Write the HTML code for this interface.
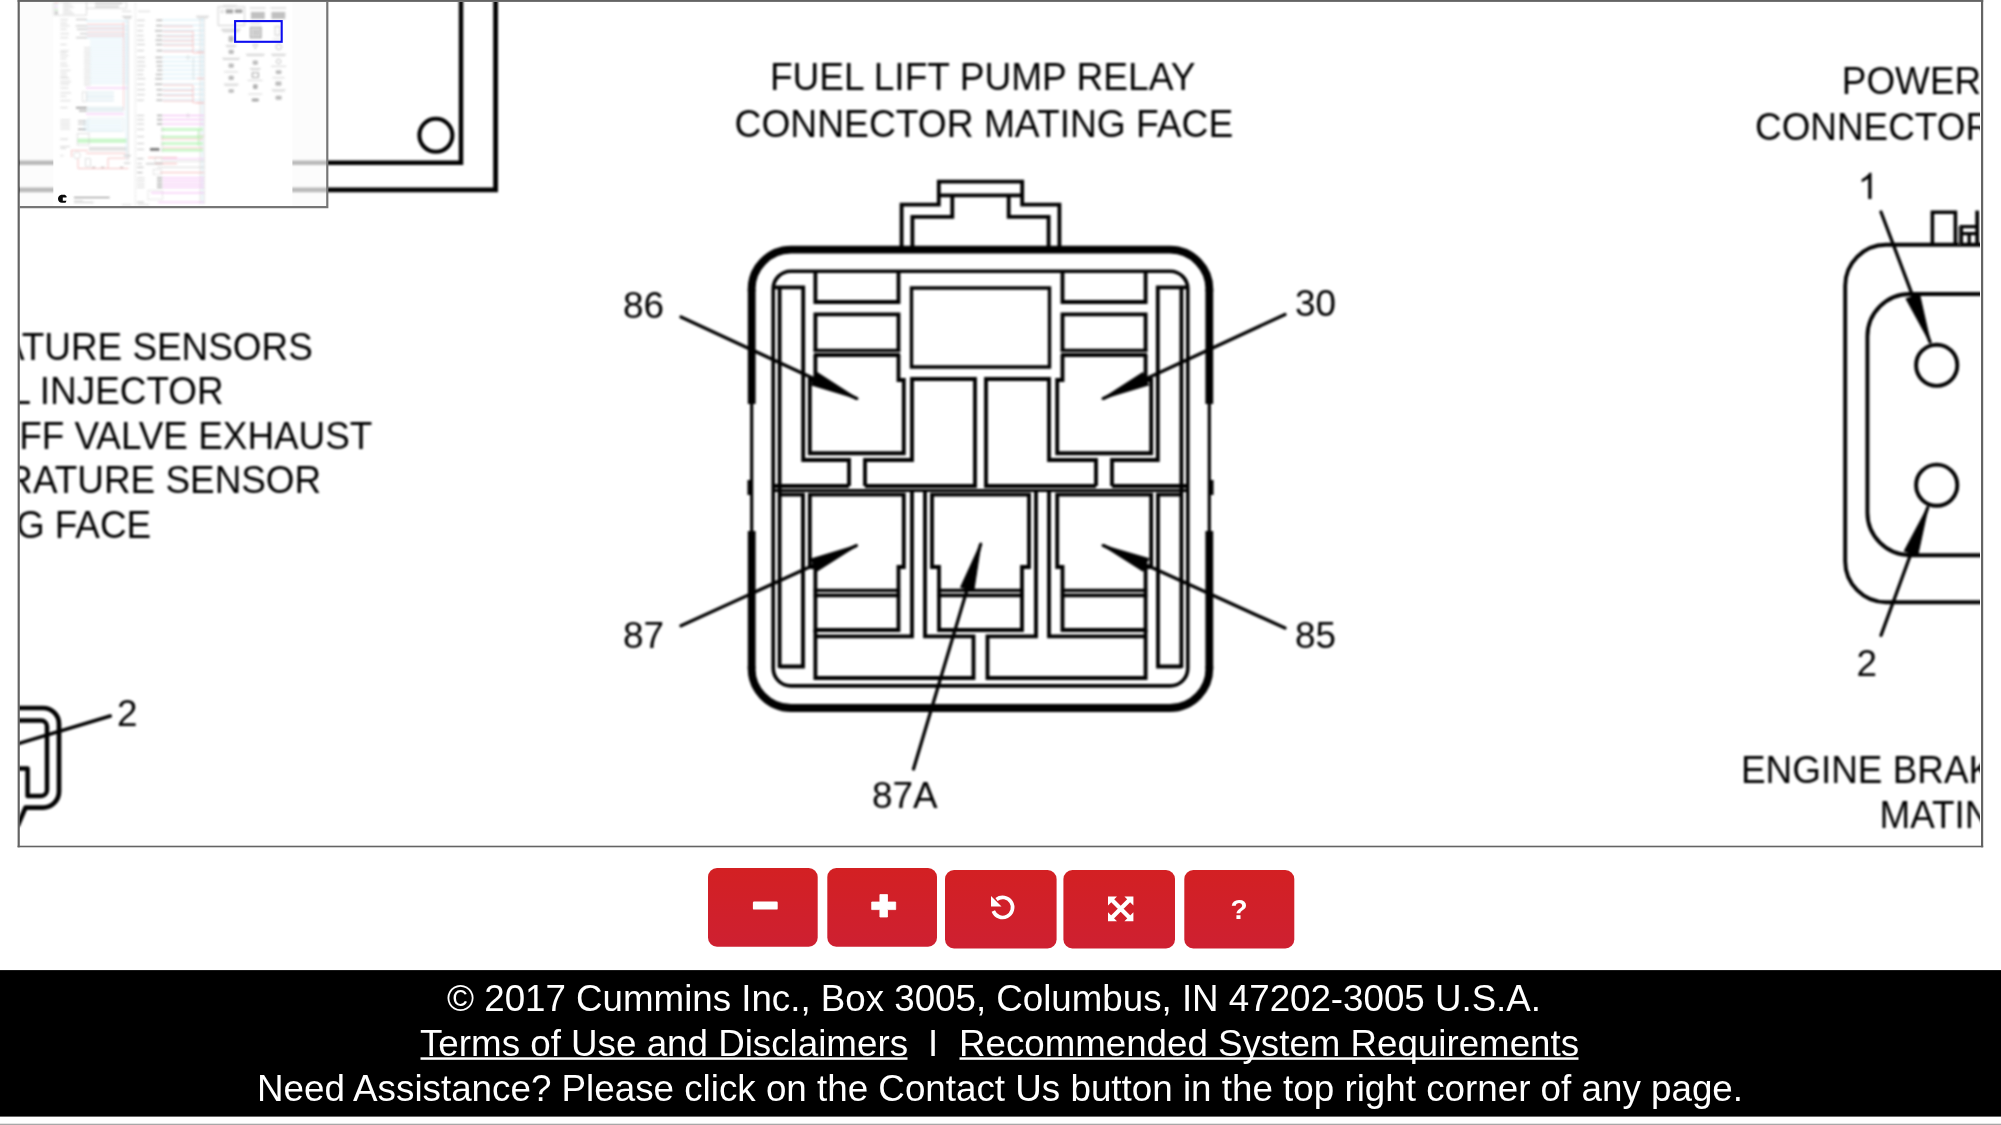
<!DOCTYPE html>
<html><head><meta charset="utf-8"><title>Wiring Diagram</title>
<style>
html,body{margin:0;padding:0;background:#fff;}
body{width:2001px;height:1125px;overflow:hidden;position:relative;font-family:"Liberation Sans",sans-serif;}
svg{position:absolute;left:0;top:0;display:block;}
text{font-family:"Liberation Sans",sans-serif;}
</style></head><body>
<svg width="2001" height="1125" viewBox="0 0 2001 1125">
<defs>
<clipPath id="frameclip"><rect x="19.5" y="2" width="1960.4" height="843.7"/></clipPath>
<filter id="tblur" x="-5%" y="-5%" width="110%" height="110%"><feGaussianBlur stdDeviation="0.8"/></filter>
<filter id="dblur" x="0" y="0" width="100%" height="100%" filterUnits="userSpaceOnUse"><feGaussianBlur stdDeviation="0.8"/></filter>
<linearGradient id="btn" x1="0" y1="0" x2="0" y2="1"><stop offset="0" stop-color="#d32023"/><stop offset="1" stop-color="#ce2031"/></linearGradient>
</defs>
<rect x="0" y="0" width="2001" height="1125" fill="#ffffff"/>
<g clip-path="url(#frameclip)">
<g filter="url(#dblur)">
<!-- top-left partial drawing -->
<g fill="none" stroke="#060606">
<path d="M0,162.7 H461 V-6" stroke-width="4.5"/>
<path d="M0,189.8 H495.6 V-6" stroke-width="4.8"/>
<circle cx="435.9" cy="135.3" r="16.5" stroke-width="4.1"/>
</g>
<!-- bottom-left partial connector -->
<g fill="none" stroke="#060606" stroke-linejoin="round">
<path d="M10,708 H43 A16,16 0 0 1 59,724 V791.6 A16,16 0 0 1 43,807.6 H25.5 L17.5,826" stroke-width="4.7"/>
<path d="M10,720.5 H41 A6,6 0 0 1 47,726.5 V790 A6,6 0 0 1 41,796 H27.6 V768.5 H10" stroke-width="4.5"/>
<path d="M110.3,716 L10,746.2" stroke-width="3.4" stroke-linecap="round"/>
</g>
<!-- right partial connector -->
<g fill="none" stroke="#060606">
<path d="M2000,244.7 H1886 A41,41 0 0 0 1845.2,285.7 V561.2 A41,41 0 0 0 1886,602.2 H2000" stroke-width="3.9"/>
<path d="M2000,294 H1910 A42.6,42.6 0 0 0 1867.4,336.6 V512.6 A42.6,42.6 0 0 0 1910,555.2 H2000" stroke-width="3.9"/>
<circle cx="1936.7" cy="365.3" r="20.6" stroke-width="3.9"/>
<circle cx="1936.7" cy="485.2" r="20.6" stroke-width="3.9"/>
<path d="M1932.4,244.8 V212.2 H1955.4 V244.8" stroke-width="3.6"/>
<path d="M1977.2,210.6 V244.8" stroke-width="3.8"/>
<path d="M1961.4,244.8 V226.6 H1977.2 M1961.4,233.7 H1977.2 M1969.2,233.7 V244.8" stroke-width="3.3"/><path d="M1959.2,226 V244.8" stroke-width="1.6" stroke="#444"/>
</g>
<g fill="none" stroke="#000000" stroke-linejoin="miter" stroke-linecap="butt">
<path d="M901.6,248.0 L901.6,204.6 L938.8,204.6 L938.8,181.6 L1022.2,181.6 L1022.2,204.6 L1059.4,204.6 L1059.4,248.0" stroke-width="3.85" />
<path d="M938.8,195.4 L1022.2,195.4" stroke-width="3.85" />
<path d="M952.3,195.4 L952.3,216.8 L912.4,216.8 L912.4,248.0" stroke-width="3.85" />
<path d="M1008.7,195.4 L1008.7,216.8 L1048.6,216.8 L1048.6,248.0" stroke-width="3.85" />
<path d="M751.7,291.2 A39.5,39.5 0 0 1 791.2,249.7 H1169.8 A39.5,39.5 0 0 1 1209.3,291.2" stroke-width="7.8" />
<path d="M751.7,666.5 A39.5,39.5 0 0 0 791.2,708 H1169.8 A39.5,39.5 0 0 0 1209.3,666.5" stroke-width="7.8" />
<path d="M751.7,289.2 V404" stroke-width="7.8" />
<path d="M751.7,402 V533" stroke-width="3.2" />
<path d="M751.7,531 V668.5" stroke-width="7.8" />
<path d="M749.7,480 V495" stroke-width="4.5" />
<path d="M1209.3,289.2 V404" stroke-width="7.8" />
<path d="M1209.3,402 V533" stroke-width="3.2" />
<path d="M1209.3,531 V668.5" stroke-width="7.8" />
<path d="M1211.3,480 V495" stroke-width="4.5" />
<path d="M790.8000000000001,271.2 H1170.2 A17.6,17.6 0 0 1 1187.8,288.8 V668.3 A17.6,17.6 0 0 1 1170.2,685.9 H790.8000000000001 A17.6,17.6 0 0 1 773.2,668.3 V288.8 A17.6,17.6 0 0 1 790.8000000000001,271.2 Z" stroke-width="3.6" />
<path d="M779.6,288.0 L779.6,668.0" stroke-width="3.85" />
<path d="M1181.4,288.0 L1181.4,668.0" stroke-width="3.85" />
<path d="M775.0,287.4 L803.2,287.4 L803.2,460.0 L849.0,460.0 L849.0,486.0" stroke-width="3.85" />
<path d="M1186.0,287.4 L1157.8,287.4 L1157.8,460.0 L1112.0,460.0 L1112.0,486.0" stroke-width="3.85" />
<path d="M815.4,271.0 L815.4,302.0 L898.5,302.0 L898.5,271.0" stroke-width="3.85" />
<path d="M1145.6,271.0 L1145.6,302.0 L1062.5,302.0 L1062.5,271.0" stroke-width="3.85" />
<path d="M815.4,352.0 L815.4,314.4 L898.5,314.4 L898.5,352.0" stroke-width="3.85" />
<path d="M1145.6,352.0 L1145.6,314.4 L1062.5,314.4 L1062.5,352.0" stroke-width="3.85" />
<path d="M813.8,350.4 L900.1,350.4" stroke-width="3.2" />
<path d="M1147.2,350.4 L1060.9,350.4" stroke-width="3.2" />
<path d="M813.8,355.0 L900.1,355.0" stroke-width="3.85" />
<path d="M1147.2,355.0 L1060.9,355.0" stroke-width="3.85" />
<path d="M815.4,355.0 L815.4,380.0 L809.8,380.0 L809.8,453.2 L903.8,453.2 L903.8,380.0 L898.5,380.0 L898.5,355.0" stroke-width="3.85" />
<path d="M1145.6,355.0 L1145.6,380.0 L1151.2,380.0 L1151.2,453.2 L1057.2,453.2 L1057.2,380.0 L1062.5,380.0 L1062.5,355.0" stroke-width="3.85" />
<path d="M911.5,288.0 L1049.5,288.0 L1049.5,367.0 L911.5,367.0 Z" stroke-width="3.4" />
<path d="M865.0,486.0 L865.0,460.0 L912.0,460.0 L912.0,379.0 L975.0,379.0 L975.0,486.0 L865.0,486.0" stroke-width="3.85" />
<path d="M1096.0,486.0 L1096.0,460.0 L1049.0,460.0 L1049.0,379.0 L986.0,379.0 L986.0,486.0 L1096.0,486.0" stroke-width="3.85" />
<path d="M775.0,486.0 L849.0,486.0" stroke-width="3.85" />
<path d="M1186.0,486.0 L1112.0,486.0" stroke-width="3.85" />
<path d="M775.0,490.6 L1186.0,490.6" stroke-width="3.0" />
<path d="M779.6,494.6 L803.0,494.6 L803.0,666.5 L779.6,666.5" stroke-width="3.85" />
<path d="M1181.4,494.6 L1158.0,494.6 L1158.0,666.5 L1181.4,666.5" stroke-width="3.85" />
<path d="M809.8,494.6 L903.8,494.6 L903.8,567.0 L898.5,567.0 L898.5,630.0 L815.4,630.0 L815.4,567.0 L809.8,567.0 L809.8,494.6 Z" stroke-width="3.85" />
<path d="M1151.2,494.6 L1057.2,494.6 L1057.2,567.0 L1062.5,567.0 L1062.5,630.0 L1145.6,630.0 L1145.6,567.0 L1151.2,567.0 L1151.2,494.6 Z" stroke-width="3.85" />
<path d="M813.8,590.4 L900.1,590.4" stroke-width="3.4" />
<path d="M1147.2,590.4 L1060.9,590.4" stroke-width="3.4" />
<path d="M813.8,595.3 L900.1,595.3" stroke-width="3.85" />
<path d="M1147.2,595.3 L1060.9,595.3" stroke-width="3.85" />
<path d="M912.0,492.0 L912.0,636.4 L815.4,636.4" stroke-width="3.85" />
<path d="M1049.0,492.0 L1049.0,636.4 L1145.6,636.4" stroke-width="3.85" />
<path d="M815.4,630.0 L815.4,678.0 L973.5,678.0 L973.5,636.4 L925.0,636.4 L925.0,492.0" stroke-width="3.85" />
<path d="M1145.6,630.0 L1145.6,678.0 L987.5,678.0 L987.5,636.4 L1036.0,636.4 L1036.0,492.0" stroke-width="3.85" />
<path d="M932.0,494.6 L1029.0,494.6 L1029.0,567.0 L1022.0,567.0 L1022.0,630.0 L939.0,630.0 L939.0,567.0 L932.0,567.0 Z" stroke-width="3.85" />
<path d="M937.4,590.4 L1023.6,590.4" stroke-width="3.4" />
<path d="M937.4,595.3 L1023.6,595.3" stroke-width="3.85" />
</g>
<path d="M681.0,317.0 L856.6,398.4" stroke="#000000" stroke-width="3.3" stroke-linecap="round" fill="none"/>
<path d="M858.0,399.0 L811.6,384.9 L817.3,372.7 Z" fill="#000000" stroke="#000000" stroke-width="1.2" stroke-linejoin="round"/>
<path d="M1285.0,314.5 L1103.4,398.4" stroke="#000000" stroke-width="3.3" stroke-linecap="round" fill="none"/>
<path d="M1102.0,399.0 L1142.7,372.7 L1148.4,385.0 Z" fill="#000000" stroke="#000000" stroke-width="1.2" stroke-linejoin="round"/>
<path d="M681.0,625.8 L856.1,545.8" stroke="#000000" stroke-width="3.3" stroke-linecap="round" fill="none"/>
<path d="M857.5,545.2 L816.6,571.3 L811.0,559.0 Z" fill="#000000" stroke="#000000" stroke-width="1.2" stroke-linejoin="round"/>
<path d="M1285.0,628.0 L1103.4,545.6" stroke="#000000" stroke-width="3.3" stroke-linecap="round" fill="none"/>
<path d="M1102.0,545.0 L1148.5,558.7 L1142.9,571.0 Z" fill="#000000" stroke="#000000" stroke-width="1.2" stroke-linejoin="round"/>
<path d="M913.5,769.0 L980.6,544.4" stroke="#000000" stroke-width="3.3" stroke-linecap="round" fill="none"/>
<path d="M981.0,543.0 L973.7,590.9 L960.8,587.1 Z" fill="#000000" stroke="#000000" stroke-width="1.2" stroke-linejoin="round"/>
<path d="M1881.0,212.0 L1930.0,341.8" stroke="#000000" stroke-width="3.3" stroke-linecap="round" fill="none"/>
<path d="M1930.5,343.2 L1906.3,298.9 L1919.4,293.9 Z" fill="#000000" stroke="#000000" stroke-width="1.2" stroke-linejoin="round"/>
<path d="M1881.0,635.4 L1927.7,507.7" stroke="#000000" stroke-width="3.3" stroke-linecap="round" fill="none"/>
<path d="M1928.2,506.3 L1917.6,555.7 L1904.5,550.9 Z" fill="#000000" stroke="#000000" stroke-width="1.2" stroke-linejoin="round"/>
<text x="769.9" y="90.4" font-size="38.0" text-anchor="start" fill="#060606" textLength="425.6" lengthAdjust="spacingAndGlyphs" >FUEL LIFT PUMP RELAY</text>
<text x="734.6" y="136.6" font-size="38.0" text-anchor="start" fill="#060606" textLength="498.6" lengthAdjust="spacingAndGlyphs" >CONNECTOR MATING FACE</text>
<text transform="translate(623,318.4) scale(0.9973,1)" font-size="37.0" text-anchor="start" fill="#060606" >86</text>
<text transform="translate(1295,316.4) scale(0.9973,1)" font-size="37.0" text-anchor="start" fill="#060606" >30</text>
<text transform="translate(623,647.5) scale(0.9973,1)" font-size="37.0" text-anchor="start" fill="#060606" >87</text>
<text transform="translate(1295,647.5) scale(0.9973,1)" font-size="37.0" text-anchor="start" fill="#060606" >85</text>
<text transform="translate(872,808.4) scale(0.9973,1)" font-size="37.0" text-anchor="start" fill="#060606" >87A</text>
<text transform="translate(312.8,359.6) scale(0.9711,1)" font-size="38.0" text-anchor="end" fill="#060606" >TEMPERATURE SENSORS</text>
<text transform="translate(223.6,404.2) scale(0.9711,1)" font-size="38.0" text-anchor="end" fill="#060606" >FUEL INJECTOR</text>
<text transform="translate(372.4,448.6) scale(0.9711,1)" font-size="38.0" text-anchor="end" fill="#060606" >SHUTOFF VALVE EXHAUST</text>
<text transform="translate(321.2,493.4) scale(0.9711,1)" font-size="38.0" text-anchor="end" fill="#060606" >TEMPERATURE SENSOR</text>
<text transform="translate(151.2,538.0) scale(0.9711,1)" font-size="38.0" text-anchor="end" fill="#060606" >MATING FACE</text>
<text transform="translate(117,726.3) scale(0.9973,1)" font-size="37.0" text-anchor="start" fill="#060606" >2</text>
<text transform="translate(1841.8,94) scale(0.9711,1)" font-size="38.0" text-anchor="start" fill="#060606" >POWER</text>
<text transform="translate(1755,140) scale(0.9711,1)" font-size="38.0" text-anchor="start" fill="#060606" >CONNECTOR</text>
<path transform="translate(1857.6,198.9) scale(0.01823,-0.01787)" d="M763 0 H583 V1147 Q518 1085 412.5 1023 T223 930 V1104 Q373 1174.5 485 1275 T644 1470 H763 Z" fill="#060606"/>
<text transform="translate(1856.5,676) scale(0.9973,1)" font-size="37.0" text-anchor="start" fill="#060606" >2</text>
<text transform="translate(1741.0,783.2) scale(0.9711,1)" font-size="38.0" text-anchor="start" fill="#060606" >ENGINE BRAKE</text>
<text transform="translate(1879.4,827.6) scale(0.9711,1)" font-size="38.0" text-anchor="start" fill="#060606" >MATING</text>
</g>
<!-- thumbnail panel -->
<rect x="19.5" y="2" width="308" height="205" fill="#fbfbfb" fill-opacity="0.74"/>
<rect x="53.3" y="2" width="239.1" height="204.2" fill="#ffffff"/>
<g fill="none" filter="url(#tblur)" opacity="0.82">
<rect x="53.9" y="2.0" width="32.6" height="13.2" stroke="#c4c4c4" stroke-width="0.7" fill="none" opacity="1"/>
<rect x="86.5" y="2.0" width="40.0" height="6.3" stroke="#c4c4c4" stroke-width="0.7" fill="none" opacity="1"/>
<path d="M95.0,3.5H122.0" stroke="#8c8c8c" stroke-width="0.8" opacity="1"/>
<path d="M95.0,6.6H119.0" stroke="#8c8c8c" stroke-width="0.8" opacity="1"/>
<path d="M54.8,3.0H58.0" stroke="#f3a6a6" stroke-width="0.9" opacity="1"/>
<path d="M63.0,3.0H70.0" stroke="#c0c0c0" stroke-width="0.7" opacity="1"/>
<path d="M54.8,5.1H58.0" stroke="#bfe4f3" stroke-width="0.9" opacity="1"/>
<path d="M63.0,5.1H72.0" stroke="#c0c0c0" stroke-width="0.7" opacity="1"/>
<path d="M54.8,7.2H58.0" stroke="#f2a8f2" stroke-width="0.9" opacity="1"/>
<path d="M63.0,7.2H74.0" stroke="#c0c0c0" stroke-width="0.7" opacity="1"/>
<path d="M54.8,9.3H58.0" stroke="#a6f0a6" stroke-width="0.9" opacity="1"/>
<path d="M63.0,9.3H70.0" stroke="#c0c0c0" stroke-width="0.7" opacity="1"/>
<path d="M54.8,11.4H58.0" stroke="#999" stroke-width="0.9" opacity="1"/>
<path d="M63.0,11.4H72.0" stroke="#c0c0c0" stroke-width="0.7" opacity="1"/>
<path d="M54.8,13.5H58.0" stroke="#777" stroke-width="0.9" opacity="1"/>
<path d="M63.0,13.5H74.0" stroke="#c0c0c0" stroke-width="0.7" opacity="1"/>
<path d="M135.4,3V206" stroke="#c8c8c8" stroke-width="0.7" stroke-dasharray="2 1.2"/>
<path d="M122.0,11.3H131.0" stroke="#aaa" stroke-width="0.6" opacity="1"/>
<path d="M138.0,11.3H150.0" stroke="#aaa" stroke-width="0.6" opacity="1"/>
<path d="M122.0,16.6H132.0" stroke="#999" stroke-width="0.7" opacity="1"/>
<path d="M124.0,18.2H131.0" stroke="#999" stroke-width="0.7" opacity="1"/>
<path d="M86.0,21.0H128.0" stroke="#bfe4f3" stroke-width="0.9" opacity="1"/>
<path d="M86.0,26.4H128.0" stroke="#bfe4f3" stroke-width="0.9" opacity="1"/>
<path d="M86.0,29.8H128.0" stroke="#bfe4f3" stroke-width="0.9" opacity="1"/>
<path d="M86.0,34.2H128.0" stroke="#bfe4f3" stroke-width="0.9" opacity="1"/>
<path d="M86.0,37.7H128.0" stroke="#bfe4f3" stroke-width="0.9" opacity="1"/>
<path d="M87.0,24.4H124.0" stroke="#f3a6a6" stroke-width="0.8" opacity="1"/>
<path d="M87.0,28.4H124.0" stroke="#f3a6a6" stroke-width="0.8" opacity="1"/>
<path d="M87.0,32.3H124.0" stroke="#f3a6a6" stroke-width="0.8" opacity="1"/>
<path d="M87.0,35.7H124.0" stroke="#f3a6a6" stroke-width="0.8" opacity="1"/>
<path d="M90.0,40.6H128.0" stroke="#bfe4f3" stroke-width="0.8" opacity="0.9"/>
<path d="M90.0,43.4H128.0" stroke="#bfe4f3" stroke-width="0.8" opacity="0.9"/>
<path d="M90.0,46.3H128.0" stroke="#bfe4f3" stroke-width="0.8" opacity="0.9"/>
<path d="M90.0,49.1H128.0" stroke="#bfe4f3" stroke-width="0.8" opacity="0.9"/>
<path d="M90.0,51.9H128.0" stroke="#bfe4f3" stroke-width="0.8" opacity="0.9"/>
<path d="M90.0,54.8H128.0" stroke="#bfe4f3" stroke-width="0.8" opacity="0.9"/>
<path d="M90.0,57.6H128.0" stroke="#bfe4f3" stroke-width="0.8" opacity="0.9"/>
<path d="M90.0,60.4H128.0" stroke="#bfe4f3" stroke-width="0.8" opacity="0.9"/>
<path d="M90.0,63.3H128.0" stroke="#bfe4f3" stroke-width="0.8" opacity="0.9"/>
<path d="M90.0,66.1H128.0" stroke="#bfe4f3" stroke-width="0.8" opacity="0.9"/>
<path d="M90.0,68.9H128.0" stroke="#bfe4f3" stroke-width="0.8" opacity="0.9"/>
<path d="M90.0,71.8H128.0" stroke="#bfe4f3" stroke-width="0.8" opacity="0.9"/>
<path d="M90.0,74.6H128.0" stroke="#bfe4f3" stroke-width="0.8" opacity="0.9"/>
<path d="M90.0,77.5H128.0" stroke="#bfe4f3" stroke-width="0.8" opacity="0.9"/>
<path d="M90.0,80.3H128.0" stroke="#bfe4f3" stroke-width="0.8" opacity="0.9"/>
<path d="M90.0,83.1H128.0" stroke="#bfe4f3" stroke-width="0.8" opacity="0.9"/>
<path d="M86.0,88.0H128.0" stroke="#f2a8f2" stroke-width="0.9" opacity="1"/>
<path d="M86.0,92.4H114.0" stroke="#c4dde6" stroke-width="0.9" opacity="1"/>
<path d="M86.0,95.4H114.0" stroke="#c4dde6" stroke-width="0.9" opacity="1"/>
<path d="M86.0,97.8H114.0" stroke="#c4dde6" stroke-width="0.9" opacity="1"/>
<path d="M86.0,100.7H114.0" stroke="#c4dde6" stroke-width="0.9" opacity="1"/>
<path d="M123.7,22.0V110.0" stroke="#f3a6a6" stroke-width="0.7" opacity="1"/>
<path d="M126.3,20.0V110.0" stroke="#bfe4f3" stroke-width="0.7" opacity="1"/>
<path d="M128.4,20.0V160.0" stroke="#c0c0c0" stroke-width="0.7" opacity="1"/>
<path d="M60.3,19.6H67.9" stroke="#b4b4b4" stroke-width="0.8" opacity="0.85"/>
<path d="M60.3,23.0H67.1" stroke="#b4b4b4" stroke-width="0.8" opacity="0.85"/>
<path d="M60.3,25.9H69.6" stroke="#b4b4b4" stroke-width="0.8" opacity="0.85"/>
<path d="M60.3,29.3H66.7" stroke="#b4b4b4" stroke-width="0.8" opacity="0.85"/>
<path d="M60.3,33.7H69.0" stroke="#b4b4b4" stroke-width="0.8" opacity="0.85"/>
<path d="M60.3,37.7H68.1" stroke="#b4b4b4" stroke-width="0.8" opacity="0.85"/>
<path d="M60.3,44.5H66.6" stroke="#b4b4b4" stroke-width="0.8" opacity="0.85"/>
<path d="M60.3,50.9H68.8" stroke="#b4b4b4" stroke-width="0.8" opacity="0.85"/>
<path d="M60.3,52.8H66.5" stroke="#b4b4b4" stroke-width="0.8" opacity="0.85"/>
<path d="M60.3,55.7H68.5" stroke="#b4b4b4" stroke-width="0.8" opacity="0.85"/>
<path d="M60.3,58.7H66.6" stroke="#b4b4b4" stroke-width="0.8" opacity="0.85"/>
<path d="M60.3,63.1H66.8" stroke="#b4b4b4" stroke-width="0.8" opacity="0.85"/>
<path d="M60.3,66.0H68.4" stroke="#b4b4b4" stroke-width="0.8" opacity="0.85"/>
<path d="M60.3,70.4H70.4" stroke="#b4b4b4" stroke-width="0.8" opacity="0.85"/>
<path d="M60.3,73.3H66.9" stroke="#b4b4b4" stroke-width="0.8" opacity="0.85"/>
<path d="M60.3,76.3H67.4" stroke="#b4b4b4" stroke-width="0.8" opacity="0.85"/>
<path d="M60.3,78.2H69.4" stroke="#b4b4b4" stroke-width="0.8" opacity="0.85"/>
<path d="M60.3,81.7H71.0" stroke="#b4b4b4" stroke-width="0.8" opacity="0.85"/>
<path d="M60.3,84.1H69.2" stroke="#b4b4b4" stroke-width="0.8" opacity="0.85"/>
<path d="M60.3,88.0H68.3" stroke="#b4b4b4" stroke-width="0.8" opacity="0.85"/>
<path d="M60.3,92.9H71.2" stroke="#b4b4b4" stroke-width="0.8" opacity="0.85"/>
<path d="M60.3,96.3H66.5" stroke="#b4b4b4" stroke-width="0.8" opacity="0.85"/>
<path d="M60.3,100.7H70.6" stroke="#b4b4b4" stroke-width="0.8" opacity="0.85"/>
<path d="M60.3,107.6H67.7" stroke="#b4b4b4" stroke-width="0.8" opacity="0.85"/>
<path d="M75.9,19.6H87.0" stroke="#9a9a9a" stroke-width="1.0" opacity="0.8"/>
<path d="M75.7,25.9H87.0" stroke="#9a9a9a" stroke-width="1.0" opacity="0.8"/>
<path d="M76.9,29.3H87.0" stroke="#9a9a9a" stroke-width="1.0" opacity="0.8"/>
<path d="M79.9,33.7H87.0" stroke="#9a9a9a" stroke-width="1.0" opacity="0.8"/>
<path d="M76.1,37.7H87.0" stroke="#9a9a9a" stroke-width="1.0" opacity="0.8"/>
<path d="M84.0,47.9H90.5" stroke="#b0b0b0" stroke-width="0.8" opacity="0.8"/>
<path d="M84.0,50.8H90.5" stroke="#b0b0b0" stroke-width="0.8" opacity="0.8"/>
<path d="M84.0,53.6H90.5" stroke="#b0b0b0" stroke-width="0.8" opacity="0.8"/>
<path d="M84.0,56.4H90.5" stroke="#b0b0b0" stroke-width="0.8" opacity="0.8"/>
<path d="M84.0,59.3H90.5" stroke="#b0b0b0" stroke-width="0.8" opacity="0.8"/>
<path d="M84.0,62.1H90.5" stroke="#b0b0b0" stroke-width="0.8" opacity="0.8"/>
<path d="M84.0,64.9H90.5" stroke="#b0b0b0" stroke-width="0.8" opacity="0.8"/>
<path d="M84.0,67.8H90.5" stroke="#b0b0b0" stroke-width="0.8" opacity="0.8"/>
<path d="M84.0,70.6H90.5" stroke="#b0b0b0" stroke-width="0.8" opacity="0.8"/>
<path d="M84.0,73.4H90.5" stroke="#b0b0b0" stroke-width="0.8" opacity="0.8"/>
<path d="M84.0,76.3H90.5" stroke="#b0b0b0" stroke-width="0.8" opacity="0.8"/>
<path d="M84.0,79.1H90.5" stroke="#b0b0b0" stroke-width="0.8" opacity="0.8"/>
<path d="M84.0,82.0H90.5" stroke="#b0b0b0" stroke-width="0.8" opacity="0.8"/>
<path d="M84.0,84.8H90.5" stroke="#b0b0b0" stroke-width="0.8" opacity="0.8"/>
<rect x="82.5" y="92.0" width="4.0" height="9.5" stroke="#bbb" stroke-width="0.5" fill="none" opacity="1"/>
<path d="M76.0,107.6H87.0" stroke="#777" stroke-width="1.4" opacity="0.8"/>
<path d="M76.0,107.8H87.0" stroke="#777" stroke-width="1.3" opacity="0.8"/>
<path d="M79.0,110.8H87.0" stroke="#777" stroke-width="1.3" opacity="0.8"/>
<path d="M87.0,107.8H124.0" stroke="#bfe4f3" stroke-width="0.9" opacity="1"/>
<path d="M87.0,110.8H124.0" stroke="#bfe4f3" stroke-width="0.9" opacity="1"/>
<rect x="87" y="106.8" width="36" height="5.0" fill="#dfeaed" opacity="0.7"/>
<path d="M86.0,114.0H124.0" stroke="#f2a8f2" stroke-width="1.0" opacity="1"/>
<path d="M83.0,121.0H122.0" stroke="#bfe4f3" stroke-width="0.8" opacity="1"/>
<path d="M60.3,120.0H70.0" stroke="#b4b4b4" stroke-width="0.8" opacity="0.85"/>
<path d="M83.0,124.0H122.0" stroke="#bfe4f3" stroke-width="0.8" opacity="1"/>
<path d="M60.3,123.0H70.0" stroke="#b4b4b4" stroke-width="0.8" opacity="0.85"/>
<path d="M83.0,126.9H122.0" stroke="#bfe4f3" stroke-width="0.8" opacity="1"/>
<path d="M60.3,125.9H70.0" stroke="#b4b4b4" stroke-width="0.8" opacity="0.85"/>
<path d="M83.0,129.8H122.0" stroke="#bfe4f3" stroke-width="0.8" opacity="1"/>
<path d="M60.3,128.9H70.0" stroke="#b4b4b4" stroke-width="0.8" opacity="0.85"/>
<rect x="88.0" y="118.1" width="35.5" height="13.2" stroke="#c9dfe6" stroke-width="0.6" fill="none" opacity="1"/>
<path d="M78.0,121.0H86.0" stroke="#888" stroke-width="1.0" opacity="0.8"/>
<path d="M78.0,124.0H86.0" stroke="#999" stroke-width="1.0" opacity="0.8"/>
<path d="M78.0,129.3H86.0" stroke="#666" stroke-width="1.2" opacity="0.8"/>
<rect x="77.5" y="138.6" width="49.5" height="4.2" fill="#aef3ae" opacity="0.8"/>
<rect x="77.2" y="133.3" width="11.8" height="11.7" stroke="#c0c0c0" stroke-width="0.6" fill="none" opacity="1"/>
<rect x="89" y="146.9" width="38" height="3.8" fill="#d6d6d6" opacity="0.9"/>
<path d="M60.3,139.1H68.0" stroke="#b4b4b4" stroke-width="0.8" opacity="1"/>
<path d="M60.3,146.5H70.0" stroke="#b4b4b4" stroke-width="0.7" opacity="1"/>
<path d="M60.3,148.4H66.0" stroke="#b4b4b4" stroke-width="0.7" opacity="1"/>
<path d="M60.3,155.7H63.5" stroke="#b4b4b4" stroke-width="0.7" opacity="1"/>
<path d="M71.5,150.4H88 M71.5,150.4V157.2 M86,153.3H127 M78,158.7V168.5H128.5 M108,168.5V158.2H128" stroke="#f3a6a6" stroke-width="0.8"/>
<circle cx="77" cy="155.3" r="3.4" stroke="#c0c0c0" stroke-width="0.6"/>
<rect x="85.5" y="158.7" width="5.0" height="7.8" stroke="#c0c0c0" stroke-width="0.6" fill="none" opacity="1"/>
<path d="M126.3,110.0V160.0" stroke="#bfe4f3" stroke-width="0.7" opacity="1"/>
<path d="M123.5,155.7H131.0" stroke="#a0a0a0" stroke-width="0.8" opacity="1"/>
<path d="M124.0,163.1H130.0" stroke="#a0a0a0" stroke-width="0.8" opacity="1"/>
<path d="M92.0,167.3H95.4" stroke="#888" stroke-width="1.0" opacity="0.8"/>
<path d="M101.0,167.3H104.4" stroke="#888" stroke-width="1.0" opacity="0.8"/>
<path d="M120.0,167.3H123.4" stroke="#888" stroke-width="1.0" opacity="0.8"/>
<path d="M74.0,197.5H109.5" stroke="#555" stroke-width="1.0" opacity="0.9"/>
<path d="M74.0,200.5H83.0" stroke="#aaa" stroke-width="0.6" opacity="1"/>
<path d="M74.0,202.4H93.5" stroke="#999" stroke-width="0.7" opacity="1"/>
<path d="M122.0,204.8H131.0" stroke="#b0b0b0" stroke-width="0.6" opacity="1"/>
<path d="M138.0,204.8H149.0" stroke="#b0b0b0" stroke-width="0.6" opacity="1"/>
<path d="M137.0,20.3H144.7" stroke="#a8a8a8" stroke-width="0.9" opacity="0.85"/>
<path d="M156.3,20.3H162.5" stroke="#8a8a8a" stroke-width="1.4" opacity="0.8"/>
<path d="M163.0,20.0H204.0" stroke="#bfe4f3" stroke-width="0.9" opacity="1"/>
<path d="M137.0,25.6H144.1" stroke="#a8a8a8" stroke-width="0.9" opacity="0.85"/>
<path d="M156.1,25.6H162.5" stroke="#8a8a8a" stroke-width="1.4" opacity="0.8"/>
<path d="M163.0,25.3H204.0" stroke="#bfe4f3" stroke-width="0.9" opacity="1"/>
<path d="M163.0,26.4H193.0" stroke="#f3a6a6" stroke-width="0.8" opacity="1"/>
<path d="M137.0,30.8H143.2" stroke="#a8a8a8" stroke-width="0.9" opacity="0.85"/>
<path d="M155.1,30.8H162.5" stroke="#8a8a8a" stroke-width="1.4" opacity="0.8"/>
<path d="M163.0,30.5H204.0" stroke="#bfe4f3" stroke-width="0.9" opacity="1"/>
<path d="M163.0,31.6H193.0" stroke="#f3a6a6" stroke-width="0.8" opacity="1"/>
<path d="M137.0,35.7H143.6" stroke="#a8a8a8" stroke-width="0.9" opacity="0.85"/>
<path d="M156.4,35.7H162.5" stroke="#8a8a8a" stroke-width="1.4" opacity="0.8"/>
<path d="M163.0,35.4H204.0" stroke="#bfe4f3" stroke-width="0.9" opacity="1"/>
<path d="M163.0,36.5H193.0" stroke="#f3a6a6" stroke-width="0.8" opacity="1"/>
<path d="M137.0,40.1H144.3" stroke="#a8a8a8" stroke-width="0.9" opacity="0.85"/>
<path d="M155.6,40.1H162.5" stroke="#8a8a8a" stroke-width="1.4" opacity="0.8"/>
<path d="M163.0,39.8H204.0" stroke="#bfe4f3" stroke-width="0.9" opacity="1"/>
<path d="M163.0,40.9H193.0" stroke="#f3a6a6" stroke-width="0.8" opacity="1"/>
<path d="M137.0,44.5H144.8" stroke="#a8a8a8" stroke-width="0.9" opacity="0.85"/>
<path d="M155.9,44.5H162.5" stroke="#8a8a8a" stroke-width="1.4" opacity="0.8"/>
<path d="M163.0,44.2H204.0" stroke="#bfe4f3" stroke-width="0.9" opacity="1"/>
<path d="M163.0,45.3H193.0" stroke="#f3a6a6" stroke-width="0.8" opacity="1"/>
<path d="M137.0,50.6H143.9" stroke="#a8a8a8" stroke-width="0.9" opacity="0.85"/>
<path d="M156.6,50.6H162.5" stroke="#8a8a8a" stroke-width="1.4" opacity="0.8"/>
<path d="M163.0,50.3H204.0" stroke="#bfe4f3" stroke-width="0.9" opacity="1"/>
<path d="M163.0,51.4H193.0" stroke="#f3a6a6" stroke-width="0.8" opacity="1"/>
<path d="M137.0,57.5H145.1" stroke="#a8a8a8" stroke-width="0.9" opacity="0.85"/>
<path d="M155.5,57.5H162.5" stroke="#8a8a8a" stroke-width="1.4" opacity="0.8"/>
<path d="M163.0,57.2H204.0" stroke="#bfe4f3" stroke-width="0.9" opacity="1"/>
<path d="M137.0,61.8H144.7" stroke="#a8a8a8" stroke-width="0.9" opacity="0.85"/>
<path d="M156.1,61.8H162.5" stroke="#8a8a8a" stroke-width="1.4" opacity="0.8"/>
<path d="M163.0,61.5H204.0" stroke="#bfe4f3" stroke-width="0.9" opacity="1"/>
<path d="M137.0,66.0H145.6" stroke="#a8a8a8" stroke-width="0.9" opacity="0.85"/>
<path d="M156.5,66.0H162.5" stroke="#8a8a8a" stroke-width="1.4" opacity="0.8"/>
<path d="M163.0,65.7H204.0" stroke="#bfe4f3" stroke-width="0.9" opacity="1"/>
<path d="M137.0,70.2H143.9" stroke="#a8a8a8" stroke-width="0.9" opacity="0.85"/>
<path d="M157.0,70.2H162.5" stroke="#8a8a8a" stroke-width="1.4" opacity="0.8"/>
<path d="M163.0,69.9H204.0" stroke="#bfe4f3" stroke-width="0.9" opacity="1"/>
<path d="M137.0,74.5H143.4" stroke="#a8a8a8" stroke-width="0.9" opacity="0.85"/>
<path d="M155.8,74.5H162.5" stroke="#8a8a8a" stroke-width="1.4" opacity="0.8"/>
<path d="M163.0,74.2H204.0" stroke="#bfe4f3" stroke-width="0.9" opacity="1"/>
<path d="M137.0,78.7H145.3" stroke="#a8a8a8" stroke-width="0.9" opacity="0.85"/>
<path d="M155.3,78.7H162.5" stroke="#8a8a8a" stroke-width="1.4" opacity="0.8"/>
<path d="M163.0,78.4H204.0" stroke="#bfe4f3" stroke-width="0.9" opacity="1"/>
<path d="M137.0,84.3H144.5" stroke="#a8a8a8" stroke-width="0.9" opacity="0.85"/>
<path d="M155.1,84.3H162.5" stroke="#8a8a8a" stroke-width="1.4" opacity="0.8"/>
<path d="M163.0,84.0H204.0" stroke="#bfe4f3" stroke-width="0.9" opacity="1"/>
<path d="M163.0,85.1H193.0" stroke="#f3a6a6" stroke-width="0.8" opacity="1"/>
<path d="M137.0,89.7H145.0" stroke="#a8a8a8" stroke-width="0.9" opacity="0.85"/>
<path d="M156.5,89.7H162.5" stroke="#8a8a8a" stroke-width="1.4" opacity="0.8"/>
<path d="M163.0,89.4H204.0" stroke="#bfe4f3" stroke-width="0.9" opacity="1"/>
<path d="M163.0,90.5H193.0" stroke="#f3a6a6" stroke-width="0.8" opacity="1"/>
<path d="M137.0,94.7H144.7" stroke="#a8a8a8" stroke-width="0.9" opacity="0.85"/>
<path d="M156.8,94.7H162.5" stroke="#8a8a8a" stroke-width="1.4" opacity="0.8"/>
<path d="M163.0,94.4H204.0" stroke="#bfe4f3" stroke-width="0.9" opacity="1"/>
<path d="M163.0,95.5H193.0" stroke="#f3a6a6" stroke-width="0.8" opacity="1"/>
<path d="M137.0,100.2H143.9" stroke="#a8a8a8" stroke-width="0.9" opacity="0.85"/>
<path d="M156.4,100.2H162.5" stroke="#8a8a8a" stroke-width="1.4" opacity="0.8"/>
<path d="M163.0,99.9H204.0" stroke="#bfe4f3" stroke-width="0.9" opacity="1"/>
<path d="M163.0,101.0H193.0" stroke="#f3a6a6" stroke-width="0.8" opacity="1"/>
<path d="M193,30.8V52.8H204 M193,85.1V102.7H204" stroke="#f3a6a6" stroke-width="0.8"/>
<path d="M193.3,57.5V79.7" stroke="#b8c8cc" stroke-width="0.7" opacity="1"/>
<path d="M200.2,18.0V204.0" stroke="#c8c8c8" stroke-width="0.7" opacity="1"/>
<path d="M202.3,18.0V204.0" stroke="#bfe4f3" stroke-width="0.7" opacity="1"/>
<path d="M204.2,18.0V204.0" stroke="#c6c6c6" stroke-width="0.7" opacity="1"/>
<path d="M196.0,16.3H209.0" stroke="#aaa" stroke-width="0.7" opacity="1"/>
<path d="M197.0,17.8H208.0" stroke="#aaa" stroke-width="0.6" opacity="1"/>
<path d="M196.5,52.0H204.0" stroke="#f3a6a6" stroke-width="0.9" opacity="0.9"/>
<path d="M196.5,136.0H204.0" stroke="#f3a6a6" stroke-width="0.9" opacity="0.9"/>
<path d="M196.5,78.5H204.0" stroke="#f3a6a6" stroke-width="0.9" opacity="0.9"/>
<path d="M196.5,103.0H204.0" stroke="#f3a6a6" stroke-width="0.9" opacity="0.9"/>
<circle cx="188" cy="57.5" r="1.5" stroke="#bbb" stroke-width="0.5"/>
<path d="M137.0,115.5H144.0" stroke="#a8a8a8" stroke-width="0.9" opacity="0.85"/>
<path d="M157.0,115.5H162.5" stroke="#777" stroke-width="1.4" opacity="0.8"/>
<path d="M163.0,115.5H204.0" stroke="#f2a8f2" stroke-width="1.0" opacity="1"/>
<path d="M137.0,119.6H144.0" stroke="#a8a8a8" stroke-width="0.9" opacity="0.85"/>
<path d="M157.0,119.6H162.5" stroke="#777" stroke-width="1.4" opacity="0.8"/>
<path d="M163.0,119.6H204.0" stroke="#f2a8f2" stroke-width="1.0" opacity="1"/>
<path d="M137.0,124.0H144.0" stroke="#a8a8a8" stroke-width="0.9" opacity="0.85"/>
<path d="M157.0,124.0H162.5" stroke="#777" stroke-width="1.4" opacity="0.8"/>
<path d="M163.0,124.0H204.0" stroke="#f2a8f2" stroke-width="1.0" opacity="1"/>
<circle cx="188" cy="115.5" r="1.5" stroke="#bbb" stroke-width="0.5"/>
<path d="M137.0,129.3H144.0" stroke="#a8a8a8" stroke-width="0.9" opacity="0.85"/>
<rect x="161.5" y="127.9" width="2.1" height="3.2" stroke="#b8b8b8" stroke-width="0.5" fill="none" opacity="1"/>
<path d="M137.0,136.7H144.0" stroke="#a8a8a8" stroke-width="0.9" opacity="0.85"/>
<rect x="161.5" y="135.2" width="2.1" height="3.2" stroke="#b8b8b8" stroke-width="0.5" fill="none" opacity="1"/>
<path d="M137.0,143.5H144.0" stroke="#a8a8a8" stroke-width="0.9" opacity="0.85"/>
<rect x="161.5" y="142.1" width="2.1" height="3.2" stroke="#b8b8b8" stroke-width="0.5" fill="none" opacity="1"/>
<path d="M137.0,149.4H144.0" stroke="#a8a8a8" stroke-width="0.9" opacity="0.85"/>
<rect x="161.5" y="147.9" width="2.1" height="3.2" stroke="#b8b8b8" stroke-width="0.5" fill="none" opacity="1"/>
<rect x="162" y="128.2" width="41" height="2.6" fill="#aef3ae" opacity="0.85"/>
<rect x="162" y="135.7" width="41" height="2.4" fill="#aef3ae" opacity="0.85"/>
<rect x="162" y="142.2" width="41" height="2.6" fill="#aef3ae" opacity="0.85"/>
<rect x="162" y="148.9" width="41" height="2.6" fill="#aef3ae" opacity="0.85"/>
<path d="M161.0,139.1H203.0" stroke="#f3a6a6" stroke-width="0.8" opacity="1"/>
<path d="M163.0,147.9H203.0" stroke="#f3a6a6" stroke-width="0.8" opacity="1"/>
<path d="M198.4,128.4V146.0" stroke="#a6f0a6" stroke-width="1.0" opacity="1"/>
<path d="M150.0,149.4H159.5" stroke="#333" stroke-width="2.6" opacity="0.85"/>
<path d="M148,157.7H177 M155,163.6H177" stroke="#f3a6a6" stroke-width="1.0"/>
<path d="M137.0,158.7H143.5" stroke="#a0a0a0" stroke-width="0.9" opacity="1"/>
<path d="M137.0,163.6H142.0" stroke="#b0b0b0" stroke-width="0.8" opacity="1"/>
<path d="M163.0,158.7H204.0" stroke="#f2a8f2" stroke-width="0.9" opacity="0.8"/>
<path d="M163.0,161.1H204.0" stroke="#c8c8c8" stroke-width="0.8" opacity="1"/>
<path d="M146.0,163.8H163.0" stroke="#888" stroke-width="0.9" opacity="0.8"/>
<rect x="155.0" y="157.2" width="7.0" height="4.9" stroke="#bbb" stroke-width="0.5" fill="none" opacity="1"/>
<path d="M137.0,167.3H143.5" stroke="#a0a0a0" stroke-width="0.9" opacity="1"/>
<path d="M157.0,167.3H204.0" stroke="#c4c4c4" stroke-width="0.8" opacity="1"/>
<path d="M137.0,172.6H142.5" stroke="#999" stroke-width="1.0" opacity="1"/>
<path d="M160.0,172.6H204.0" stroke="#f3a6a6" stroke-width="0.9" opacity="1"/>
<rect x="153.5" y="169.6" width="8.0" height="5.2" stroke="#c4c4c4" stroke-width="0.5" fill="none" opacity="1"/>
<path d="M137.0,177.9H144.5" stroke="#b0b0b0" stroke-width="0.8" opacity="0.85"/>
<path d="M157.0,177.9H162.5" stroke="#777" stroke-width="1.4" opacity="0.8"/>
<path d="M163.0,177.9H204.0" stroke="#f2a8f2" stroke-width="1.0" opacity="1"/>
<path d="M137.0,181.0H144.5" stroke="#b0b0b0" stroke-width="0.8" opacity="0.85"/>
<path d="M157.0,181.0H162.5" stroke="#777" stroke-width="1.4" opacity="0.8"/>
<path d="M163.0,181.0H204.0" stroke="#f2a8f2" stroke-width="1.0" opacity="1"/>
<path d="M137.0,184.3H144.5" stroke="#b0b0b0" stroke-width="0.8" opacity="0.85"/>
<path d="M157.0,184.3H162.5" stroke="#777" stroke-width="1.4" opacity="0.8"/>
<path d="M163.0,184.3H204.0" stroke="#f2a8f2" stroke-width="1.0" opacity="1"/>
<path d="M137.0,187.3H144.5" stroke="#b0b0b0" stroke-width="0.8" opacity="0.85"/>
<path d="M157.0,187.3H162.5" stroke="#777" stroke-width="1.4" opacity="0.8"/>
<path d="M163.0,187.3H204.0" stroke="#f2a8f2" stroke-width="1.0" opacity="1"/>
<rect x="148.0" y="190.5" width="14.5" height="9.3" stroke="#c8c8c8" stroke-width="0.5" fill="none" opacity="1"/>
<path d="M151.0,192.9H204.0" stroke="#f2a8f2" stroke-width="1.0" opacity="1"/>
<path d="M158.0,202.2H204.0" stroke="#f2a8f2" stroke-width="0.9" opacity="1"/>
<path d="M137.0,202.2H144.0" stroke="#a8a8a8" stroke-width="0.9" opacity="1"/>
</g>
<g fill="none" filter="url(#tblur)" opacity="0.82">
<rect x="218.1" y="6.8" width="26.6" height="18.8" stroke="#b0b0b0" stroke-width="0.7" fill="none" opacity="1"/>
<path d="M223.0,5.4H236.7" stroke="#b8b8b8" stroke-width="0.6" opacity="1"/>
<rect x="225.8" y="9.3" width="7.3" height="4.1" fill="#777" opacity="0.8"/>
<rect x="234.8" y="9.3" width="7.6" height="3.7" fill="#777" opacity="0.8"/>
<circle cx="222.2" cy="11.5" r="1.3" stroke="#999" stroke-width="0.5"/>
<path d="M249.9,8.0H265.6" stroke="#a0a0a0" stroke-width="0.9" opacity="0.8"/>
<rect x="250.9" y="11.9" width="13.9" height="7.0" fill="#9a9a9a" opacity="0.75"/>
<path d="M270.5,8.0H286.1" stroke="#a0a0a0" stroke-width="0.9" opacity="0.8"/>
<rect x="271.4" y="11.9" width="13.9" height="7.0" fill="#9a9a9a" opacity="0.75"/>
<path d="M220.9,29.3H240.9" stroke="#b4b4b4" stroke-width="0.7" opacity="1"/>
<path d="M221.9,30.6H239.9" stroke="#b4b4b4" stroke-width="0.7" opacity="1"/>
<path d="M222.9,31.9H238.9" stroke="#b4b4b4" stroke-width="0.7" opacity="1"/>
<rect x="228.6" y="36.1" width="5.0" height="6.0" rx="1" fill="#8a8a8a" opacity="0.7" stroke="none"/>
<path d="M225.6,45.5H236.6" stroke="#b4b4b4" stroke-width="0.7" opacity="1"/>
<path d="M226.6,46.8H235.6" stroke="#b4b4b4" stroke-width="0.7" opacity="1"/>
<rect x="228.6" y="49.7" width="5.2" height="4.2" rx="1" fill="#8a8a8a" opacity="0.7" stroke="none"/>
<path d="M222.1,58.2H240.1" stroke="#b4b4b4" stroke-width="0.7" opacity="1"/>
<path d="M223.1,59.5H239.1" stroke="#b4b4b4" stroke-width="0.7" opacity="1"/>
<rect x="228.6" y="63.6" width="5.2" height="4.2" rx="1" fill="#8a8a8a" opacity="0.7" stroke="none"/>
<path d="M224.1,71.9H238.1" stroke="#b4b4b4" stroke-width="0.7" opacity="1"/>
<rect x="228.6" y="75.7" width="5.2" height="4.2" rx="1" fill="#8a8a8a" opacity="0.7" stroke="none"/>
<path d="M223.7,84.1H238.7" stroke="#b4b4b4" stroke-width="0.7" opacity="1"/>
<path d="M224.7,85.4H237.7" stroke="#b4b4b4" stroke-width="0.7" opacity="1"/>
<rect x="228.5" y="89.2" width="5.4" height="3.6" rx="1" fill="#8a8a8a" opacity="0.7" stroke="none"/>
<path d="M245.8,54.3H264.8" stroke="#b4b4b4" stroke-width="0.7" opacity="1"/>
<path d="M246.8,55.6H263.8" stroke="#b4b4b4" stroke-width="0.7" opacity="1"/>
<rect x="252.7" y="60.5" width="5.2" height="4.2" rx="1" fill="#8a8a8a" opacity="0.7" stroke="none"/>
<path d="M252.9,44.5H257.8L255.3,48.9Z" stroke="#999" stroke-width="0.6"/>
<path d="M249.8,68.5H260.8" stroke="#b4b4b4" stroke-width="0.7" opacity="1"/>
<path d="M250.8,69.8H259.8" stroke="#b4b4b4" stroke-width="0.7" opacity="1"/>
<rect x="252.2" y="72.9" width="6.3" height="4.4" stroke="#777" stroke-width="0.8" fill="none" opacity="1"/>
<path d="M247.6,80.4H262.6" stroke="#b4b4b4" stroke-width="0.7" opacity="1"/>
<rect x="253.0" y="84.3" width="4.6" height="4.6" rx="1" fill="#777" opacity="0.7" stroke="none"/>
<path d="M248.3,94.1H262.3" stroke="#b4b4b4" stroke-width="0.7" opacity="1"/>
<rect x="251.8" y="98.4" width="7.0" height="3.2" rx="1" fill="#666" opacity="0.7" stroke="none"/>
<circle cx="278.8" cy="46.9" r="2.8" stroke="#999" stroke-width="0.7"/>
<path d="M271.1,54.3H286.1" stroke="#b4b4b4" stroke-width="0.7" opacity="1"/>
<path d="M272.1,55.6H285.1" stroke="#b4b4b4" stroke-width="0.7" opacity="1"/>
<circle cx="278.6" cy="61.4" r="2.3" stroke="#999" stroke-width="0.7"/>
<path d="M271.1,66.3H286.1" stroke="#b4b4b4" stroke-width="0.7" opacity="1"/>
<rect x="275.8" y="70.3" width="5.6" height="3.8" rx="1" fill="#8a8a8a" opacity="0.7" stroke="none"/>
<path d="M272.6,77.8H284.6" stroke="#b4b4b4" stroke-width="0.7" opacity="1"/>
<rect x="275.4" y="81.5" width="6.0" height="4.2" rx="1" fill="#8a8a8a" opacity="0.7" stroke="none"/>
<path d="M271.6,89.8H285.6" stroke="#b4b4b4" stroke-width="0.7" opacity="1"/>
<path d="M272.6,91.1H284.6" stroke="#b4b4b4" stroke-width="0.7" opacity="1"/>
<rect x="275.6" y="95.8" width="6.0" height="4.0" rx="1" fill="#8a8a8a" opacity="0.7" stroke="none"/>
<path d="M250.3,23.5H260.3" stroke="#b4b4b4" stroke-width="0.7" opacity="1"/>
<rect x="250.6" y="27.4" width="10.4" height="10.3" stroke="#777" stroke-width="1.0" fill="none" opacity="1"/>
<rect x="251.9" y="28.6" width="8.0" height="8.0" fill="#999" opacity="0.6"/>
<rect x="275.1" y="26.4" width="4.7" height="8.8" stroke="#aaa" stroke-width="0.7" fill="none" opacity="1"/>
<path d="M272.9,39.1H280.7" stroke="#b8b8b8" stroke-width="0.6" opacity="1"/>
</g>
<path d="M66.6,196.3 L64.9,194.7 H61.2 Q57.8,196.3 58,199.0 Q58.3,202.5 62,202.7 H65.5 L66.5,200.7 H62.8 V197.6 H66.5 Z" fill="#0a0a0a" stroke="none"/>
<rect x="235.1" y="21.1" width="46.6" height="20.7" fill="none" stroke="#0d0df0" stroke-width="2.1"/>
<path d="M327.3,2 V207.1 H19.5" fill="none" stroke="#767676" stroke-width="2.2"/>
</g>
<!-- frame -->
<g fill="#646464"><rect x="17.6" y="0" width="2.2" height="847.3"/><rect x="1981" y="0" width="2.2" height="847.3"/><rect x="17.6" y="0" width="1965.6" height="1.9"/><rect x="17.6" y="845.7" width="1965.6" height="1.6"/></g>
<!-- buttons -->
<g>
<rect x="708" y="868" width="109.7" height="78.7" rx="9" fill="url(#btn)"/>
<rect x="827.3" y="868" width="109.7" height="78.7" rx="9" fill="url(#btn)"/>
<rect x="945" y="870" width="111.6" height="78.5" rx="9" fill="url(#btn)"/>
<rect x="1063.4" y="870" width="111.6" height="78.5" rx="9" fill="url(#btn)"/>
<rect x="1184.3" y="870" width="110" height="78.5" rx="9" fill="url(#btn)"/>
<rect x="752.9" y="901.6" width="24.8" height="8" rx="1.2" fill="#fff"/>
<path d="M879.9,894.6 h7.6 v7.4 h8.2 v7.6 h-8.2 v7.4 h-7.6 v-7.4 h-8.2 v-7.6 h8.2 z" fill="#fff" stroke="#fff" stroke-width="0.8" stroke-linejoin="round"/>
<path d="M996.5,899.5 A10,10 0 1 1 993.3,911" fill="none" stroke="#fff" stroke-width="3.6"/>
<path d="M991,896 v10.5 h10.5 z" fill="#fff"/>
<g fill="#fff" stroke="#fff" stroke-width="4.2" stroke-linecap="butt"><path d="M1112,900 L1129.4,917.6 M1129.4,900 L1112,917.6"/></g>
<path d="M1108,896.5 h9 l-9,9 z M1133.4,896.5 v9 l-9,-9 z M1108,921.2 v-9 l9,9 z M1133.4,921.2 h-9 l9,-9 z" fill="#fff"/>
<text x="1239" y="919" font-size="28" font-weight="bold" text-anchor="middle" fill="#fff">?</text>
</g>
<!-- footer -->
<rect x="0" y="970.1" width="2001" height="146.5" fill="#000"/>
<rect x="0" y="1123.7" width="2001" height="1.3" fill="#a8a8a8"/>
<g fill="#fff" font-size="36.5" opacity="0.999">
<text x="447" y="1011" textLength="1094" lengthAdjust="spacingAndGlyphs">© 2017 Cummins Inc., Box 3005, Columbus, IN 47202-3005 U.S.A.</text>
<text x="420" y="1055.7" textLength="488" lengthAdjust="spacingAndGlyphs">Terms of Use and Disclaimers</text>
<text x="928" y="1055.7">I</text>
<text x="959" y="1055.7" textLength="620" lengthAdjust="spacingAndGlyphs">Recommended System Requirements</text>
<rect x="420.5" y="1057.3" width="487" height="2.5" fill="#fff"/><rect x="959.5" y="1057.3" width="619" height="2.5" fill="#fff"/>
<text x="257" y="1101" textLength="1486" lengthAdjust="spacingAndGlyphs">Need Assistance? Please click on the Contact Us button in the top right corner of any page.</text>
</g>
</svg>
</body></html>
